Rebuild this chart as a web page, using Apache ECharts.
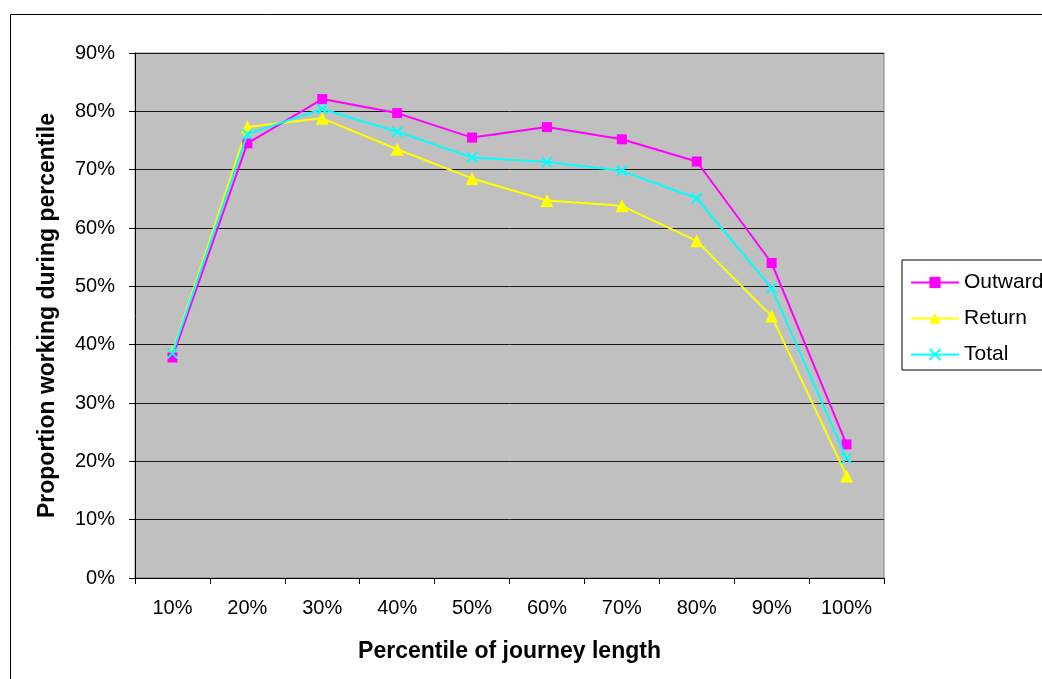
<!DOCTYPE html>
<html>
<head>
<meta charset="utf-8">
<title>Proportion working during percentile</title>
<script src="https://cdn.jsdelivr.net/npm/echarts@6/dist/echarts.min.js"></script>
<style>
  html, body { margin: 0; padding: 0; background: #ffffff; }
  #chart { width: 1042px; height: 679px; }
</style>
</head>
<body>
<div id="chart"></div>
<script>
// Percentile bands of journey length
const categories = ['10%', '20%', '30%', '40%', '50%', '60%', '70%', '80%', '90%', '100%'];

// Share of people working during each band (percent)
const outward = [37.8, 74.5, 82.1, 79.7, 75.5, 77.3, 75.2, 71.4, 54.0, 22.9];
const returnTrip = [38.7, 77.3, 78.8, 73.5, 68.5, 64.7, 63.8, 57.8, 44.9, 17.5];
const total = [38.5, 76.1, 80.4, 76.5, 72.1, 71.3, 69.8, 65.1, 49.7, 20.5];

// Value axis range and step (percent)
const yMin = 0;
const yMax = 90;
const yStep = 10;

const FONT = '"Liberation Sans", Arial, sans-serif';
const crossPath = 'path://M0,0L10,10M10,0L0,10';

const chart = echarts.init(document.getElementById('chart'), null, { renderer: 'canvas' });

chart.setOption({
  backgroundColor: '#ffffff',
  animation: false,
  textStyle: { fontFamily: FONT },
  graphic: [{
    type: 'rect',
    silent: true,
    z: -1,
    shape: { x: 10.5, y: 14.5, width: 1100, height: 700 },
    style: { fill: 'none', stroke: '#000000', lineWidth: 1 }
  }],
  grid: {
    left: 135,
    top: 53,
    width: 749,
    height: 525,
    show: true,
    backgroundColor: '#C0C0C0',
    borderColor: '#808080',
    borderWidth: 1
  },
  legend: {
    orient: 'vertical',
    left: 902,
    top: 260,
    padding: [12, 30, 5, 8],
    itemWidth: 48,
    itemHeight: 14,
    itemGap: 15,
    borderColor: '#000000',
    borderWidth: 1,
    backgroundColor: '#ffffff',
    textStyle: { fontFamily: FONT, fontSize: 21, color: '#000000' },
    data: ['Outward', 'Return', 'Total']
  },
  xAxis: {
    type: 'category',
    data: categories,
    boundaryGap: true,
    name: 'Percentile of journey length',
    nameLocation: 'middle',
    nameGap: 62,
    nameTextStyle: { fontFamily: FONT, fontSize: 23, fontWeight: 'bold', color: '#000000' },
    axisLine: { show: true, lineStyle: { color: '#000000', width: 1 } },
    axisTick: { show: true, inside: false, length: 6, alignWithLabel: false, lineStyle: { color: '#000000' } },
    axisLabel: { margin: 20, fontFamily: FONT, fontSize: 20, color: '#000000', interval: 0 },
    splitLine: { show: false }
  },
  yAxis: {
    type: 'value',
    min: yMin,
    max: yMax,
    interval: yStep,
    name: 'Proportion working during percentile',
    nameLocation: 'middle',
    nameGap: 76,
    nameTextStyle: { fontFamily: FONT, fontSize: 23, fontWeight: 'bold', color: '#000000' },
    axisLine: { show: true, lineStyle: { color: '#000000', width: 1 } },
    axisTick: { show: true, inside: false, length: 6, lineStyle: { color: '#000000' } },
    axisLabel: { margin: 20, fontFamily: FONT, fontSize: 20, color: '#000000', formatter: '{value}%' },
    splitLine: { show: true, lineStyle: { color: '#1a1a1a', width: 1 } }
  },
  series: [
    {
      name: 'Outward',
      type: 'line',
      data: outward,
      symbol: 'rect',
      symbolSize: 10,
      lineStyle: { color: '#FF00FF', width: 2 },
      itemStyle: { color: '#FF00FF' },
      z: 4
    },
    {
      name: 'Return',
      type: 'line',
      data: returnTrip,
      symbol: 'triangle',
      symbolSize: 13,
      lineStyle: { color: '#FFFF00', width: 2 },
      itemStyle: { color: '#FFFF00' },
      z: 3
    },
    {
      name: 'Total',
      type: 'line',
      data: total,
      symbol: crossPath,
      symbolSize: 10,
      symbolKeepAspect: true,
      lineStyle: { color: '#00FFFF', width: 2 },
      itemStyle: { color: '#00FFFF', borderColor: '#00FFFF', borderWidth: 2 },
      z: 5
    }
  ]
});
</script>
</body>
</html>
